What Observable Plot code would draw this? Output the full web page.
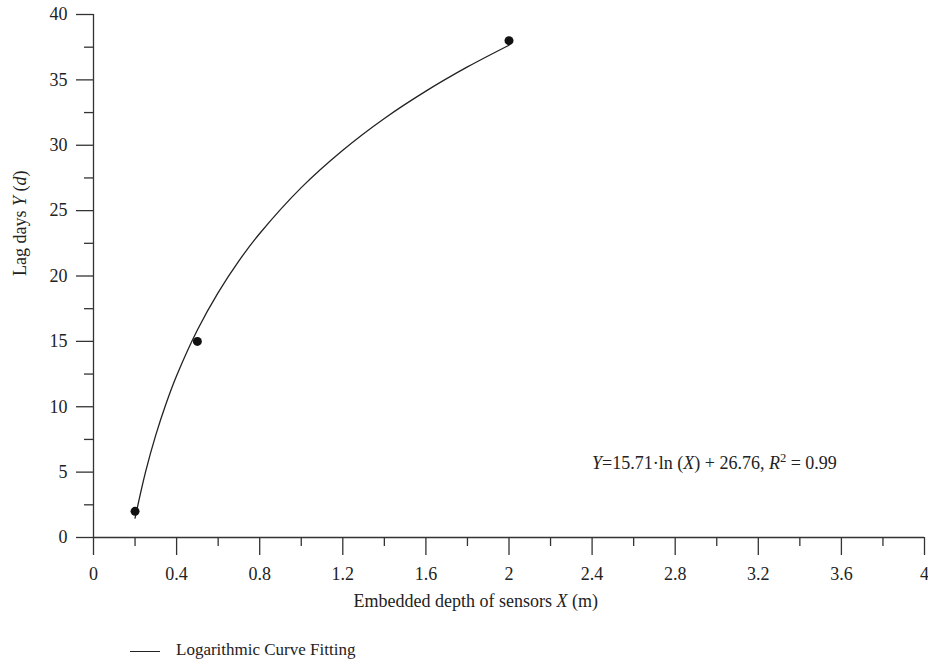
<!DOCTYPE html>
<html>
<head>
<meta charset="utf-8">
<script src="https://cdn.jsdelivr.net/npm/d3@7"></script>
<script src="https://cdn.jsdelivr.net/npm/@observablehq/plot@0.6"></script>
<style>
  body { margin: 0; background: #fff; font-family: "Liberation Serif", "DejaVu Serif", serif; color: #222; }
  #legend { position: relative; height: 42px; font-size: 17px; }
  #legend .sw { position: absolute; left: 130px; top: 26px; width: 30px; border-top: 1.2px solid #222; }
  #legend .lab { position: absolute; left: 176px; top: 15px; }
</style>
</head>
<body>
<div id="chart"></div>
<div id="legend"><span class="sw"></span><span class="lab">Logarithmic Curve Fitting</span></div>
<script>
// Observed data points
const depthX = [0.2, 0.5, 2.0];
const lagY = [2, 15, 38];

// Fitted curve values
const fitX = [0.2, 0.25, 0.3, 0.35, 0.4, 0.5, 0.6, 0.7, 0.8, 1.0, 1.2, 1.4, 1.6, 1.8, 2.0];
const fitY = [1.48, 4.98, 7.85, 10.27, 12.37, 15.87, 18.73, 21.16, 23.25, 26.76, 29.62, 32.05, 34.14, 35.99, 37.65];

// Ticks
const xMajor = [0, 0.4, 0.8, 1.2, 1.6, 2, 2.4, 2.8, 3.2, 3.6, 4];
const xMinor = [0.2, 0.6, 1.0, 1.4, 1.8, 2.2, 2.6, 3.0, 3.4, 3.8];
const yMajor = [0, 5, 10, 15, 20, 25, 30, 35, 40];
const yMinor = [2.5, 7.5, 12.5, 17.5, 22.5, 27.5, 32.5, 37.5];

const equationText = "Y=15.71·ln (X) + 26.76, R2 = 0.99";
const xLabel = "Embedded depth of sensors X (m)";
const yLabel = "Lag days Y (d)";

const points = depthX.map((x, i) => ({x, y: lagY[i]}));
const fit = fitX.map((x, i) => ({x, y: fitY[i]}));

const ink = "#222";
const font = {fontSize: 18, fontFamily: "Liberation Serif, DejaVu Serif, serif"};
const axisStyle = {stroke: "#333", strokeWidth: 1.3, strokeOpacity: 1, label: null, ...font};
const plot = Plot.plot({
  width: 928,
  height: 625,
  marginLeft: 93,
  marginRight: 4,
  marginTop: 14,
  marginBottom: 88,
  style: {fontFamily: "Liberation Serif, DejaVu Serif, serif", fontSize: "18px", color: ink, background: "#fff"},
  x: {domain: [0, 4]},
  y: {domain: [0, 40]},
  marks: [
    Plot.axisX({ticks: xMajor, tickSize: 18, tickPadding: 12, tickFormat: d => String(d), ...axisStyle}),
    Plot.axisX({ticks: xMinor, tickSize: 9, text: null, ...axisStyle}),
    Plot.axisY({ticks: yMajor, tickSize: 17, tickPadding: 9, tickFormat: d => String(d), ...axisStyle}),
    Plot.axisY({ticks: yMinor, tickSize: 9, text: null, ...axisStyle}),
    Plot.ruleY([0], {stroke: "#333", strokeWidth: 1.3}),
    Plot.ruleX([0], {stroke: "#333", strokeWidth: 1.3}),
    Plot.line(fit, {x: "x", y: "y", stroke: ink, strokeWidth: 1.3, curve: "catmull-rom"}),
    Plot.dot(points, {x: "x", y: "y", r: 4.5, fill: "#111", stroke: "none"}),
    Plot.text([equationText], {x: () => 2.4, y: () => 5.7, text: d => d, textAnchor: "start", fill: ink, ...font}),
    Plot.text([xLabel], {x: () => 1.84, frameAnchor: "bottom", dy: 69, text: d => d, fill: ink, ...font}),
    Plot.text([yLabel], {y: () => 20, frameAnchor: "left", dx: -73, rotate: -90, text: d => d, fill: ink, ...font})
  ]
});
document.getElementById("chart").appendChild(plot);

// Rich text formatting (italics / superscript)
function rich(el, parts) {
  const t = d3.select(el);
  t.text(null);
  for (const [s, style] of parts) {
    const sp = t.append("tspan").text(s);
    if (style === "i") sp.attr("font-style", "italic");
    if (style === "sup") sp.attr("font-size", "0.7em").attr("baseline-shift", "super");
  }
}
d3.select(plot).selectAll("text").each(function() {
  const s = this.textContent;
  if (s === equationText) {
    rich(this, [["Y", "i"], ["=15.71·ln (", ""], ["X", "i"], [") + 26.76, ", ""], ["R", "i"], ["2", "sup"], [" = 0.99", ""]]);
  } else if (s === xLabel) {
    rich(this, [["Embedded depth of sensors ", ""], ["X", "i"], [" (m)", ""]]);
  } else if (s === yLabel) {
    rich(this, [["Lag days ", ""], ["Y", "i"], [" (", ""], ["d", "i"], [")", ""]]);
  }
});
</script>
</body>
</html>
